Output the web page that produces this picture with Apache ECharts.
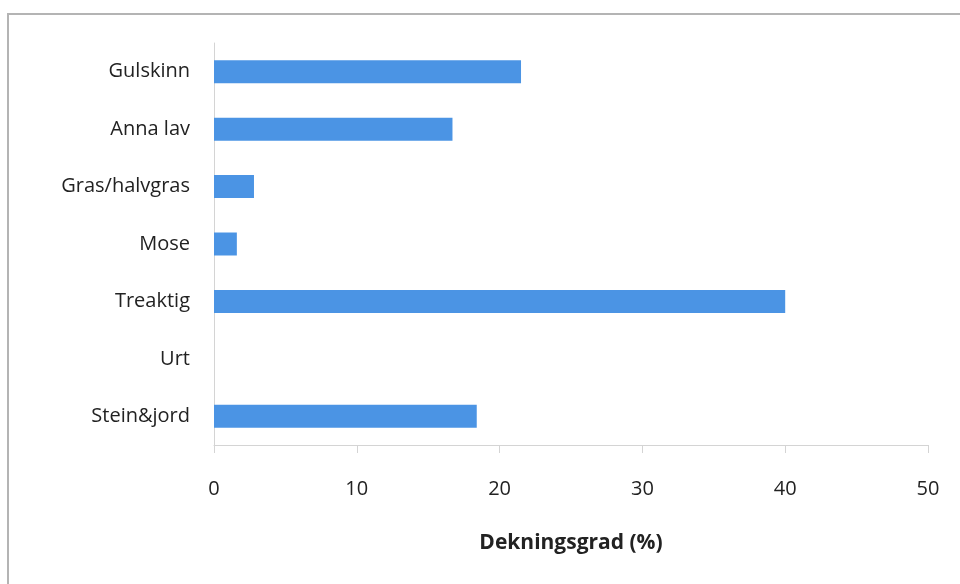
<!DOCTYPE html>
<html>
<head>
<meta charset="utf-8">
<script src="https://cdn.jsdelivr.net/npm/echarts@6/dist/echarts.min.js"></script>
<style>
  html, body { margin: 0; padding: 0; background: #fff; }
  #chart { width: 960px; height: 584px; }
</style>
</head>
<body>
<div id="chart"></div>
<script>
// Cover categories, listed top to bottom
const categories = ['Gulskinn', 'Anna lav', 'Gras/halvgras', 'Mose', 'Treaktig', 'Urt', 'Stein&jord'];
// Cover degree (%) for each category
const coverValues = [21.5, 16.7, 2.8, 1.6, 40.0, 0, 18.4];
// X axis ticks
const xTicks = [0, 10, 20, 30, 40, 50];
const xAxisTitle = 'Dekningsgrad (%)';

const FONT = '"Open Sans", Lato, sans-serif';

const chart = echarts.init(document.getElementById('chart'), null, { renderer: 'canvas' });

chart.setOption({
  backgroundColor: '#ffffff',
  animation: false,
  graphic: [{
    type: 'rect',
    silent: true,
    shape: { x: 8, y: 14, width: 1100, height: 1100 },
    style: { fill: 'none', stroke: '#b4b4b4', lineWidth: 2 }
  }],
  grid: { left: 214, right: 32, top: 43, bottom: 139, containLabel: false },
  xAxis: {
    type: 'value',
    min: xTicks[0],
    max: xTicks[xTicks.length - 1],
    interval: xTicks[1] - xTicks[0],
    name: xAxisTitle,
    nameLocation: 'middle',
    nameGap: 88,
    nameTextStyle: { fontFamily: FONT, fontSize: 21, fontWeight: 'bold', color: '#222' },
    axisLine: { show: true, lineStyle: { color: '#d4d4d4', width: 1 } },
    axisTick: { show: true, length: 8, inside: false, lineStyle: { color: '#d4d4d4' } },
    axisLabel: { margin: 34, fontFamily: FONT, fontSize: 20, color: '#222' },
    splitLine: { show: false }
  },
  yAxis: {
    type: 'category',
    inverse: true,
    data: categories,
    axisLine: { show: true, lineStyle: { color: '#d4d4d4', width: 1 } },
    axisTick: { show: false },
    axisLabel: { margin: 24, fontFamily: FONT, fontSize: 20, color: '#222' },
    splitLine: { show: false }
  },
  series: [{
    type: 'bar',
    data: coverValues,
    barWidth: 23,
    itemStyle: { color: '#4b94e4' }
  }]
});
</script>
</body>
</html>
